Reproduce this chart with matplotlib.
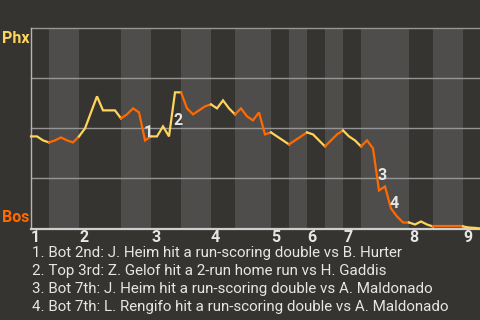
import matplotlib
matplotlib.use("Agg")
import matplotlib.pyplot as plt

# Win probability for Phoenix after each plate appearance (1.0 = Phx wins, 0.0 = Bos wins)
win_prob = [
    0.46, 0.46, 0.44, 0.43, 0.44, 0.455, 0.44, 0.43, 0.46,          # 1st
    0.50, 0.58, 0.66, 0.59, 0.59, 0.59, 0.55,                         # top 2nd
    0.57, 0.60, 0.58, 0.44, 0.46,                                     # bot 2nd
    0.46, 0.51, 0.46, 0.68, 0.68,                                     # top 3rd
    0.60, 0.57, 0.59, 0.61, 0.62,                                     # bot 3rd
    0.60, 0.64, 0.60, 0.57,                                           # top 4th
    0.60, 0.56, 0.54, 0.58, 0.47, 0.48,                               # bot 4th
    0.46, 0.44, 0.42,                                                 # top 5th
    0.44, 0.46, 0.48,                                                 # bot 5th
    0.47, 0.44, 0.41,                                                 # top 6th
    0.44, 0.47, 0.49,                                                 # bot 6th
    0.46, 0.44, 0.41,                                                 # top 7th
    0.44, 0.40, 0.19, 0.21, 0.10, 0.06, 0.03, 0.03,                   # bot 7th
    0.02, 0.035, 0.02, 0.01,                                          # top 8th
    0.01, 0.01, 0.01, 0.01, 0.01,                                     # bot 8th
    0.005, 0.003, 0.0,                                                # top 9th
]

# Plate-appearance index where each half inning starts (last entry = end of game)
half_inning_starts = [0, 3, 8, 15, 20, 25, 30, 34, 40, 43, 46, 49, 52, 55, 63, 67, 72, 75]

inning_labels = ["1", "2", "3", "4", "5", "6", "7", "8", "9"]

team_labels = ["Phx", "Bos"]

# Key plays: (plate appearance index, marker text)
key_play_index = [19, 24, 58, 60]
key_play_marks = ["1", "2", "3", "4"]
key_play_text = [
    "1. Bot 2nd: J. Heim hit a run-scoring double vs B. Hurter",
    "2. Top 3rd: Z. Gelof hit a 2-run home run vs H. Gaddis",
    "3. Bot 7th: J. Heim hit a run-scoring double vs A. Maldonado",
    "4. Bot 7th: L. Rengifo hit a run-scoring double vs A. Maldonado",
]

AWAY_COLOR = "#ffd45c"
HOME_COLOR = "#ff6a00"
DARK = "#353430"
LIGHT = "#4e4d4b"
TEXT = "#e6e6e6"

plt.rcParams["font.family"] = ["Roboto", "DejaVu Sans"]

fig = plt.figure(figsize=(4.8, 3.2), dpi=100, facecolor=DARK)
W, H = 480, 320
left_px, top_px, width_px, height_px = 31, 28.3, 450, 200.2
ax = fig.add_axes([left_px / W, 1 - (top_px + height_px) / H, width_px / W, height_px / H])
ax.set_facecolor(DARK)

n_events = half_inning_starts[-1]
ax.set_xlim(0, n_events)
ax.set_ylim(0, 1)

# alternating half-inning bands
for i in range(len(half_inning_starts) - 1):
    a, b = half_inning_starts[i], half_inning_starts[i + 1]
    ax.axvspan(a, b, color=DARK if i % 2 == 0 else LIGHT, lw=0, zorder=0)

for yv in (0.25, 0.5, 0.75, 1.0):
    ax.axhline(yv, color="#959595", lw=1.0, zorder=1, clip_on=False)

# win probability line, coloured by batting team
xs = list(range(len(win_prob)))
for i in range(len(half_inning_starts) - 1):
    a, b = half_inning_starts[i], half_inning_starts[i + 1]
    ax.plot(xs[a:b + 1], win_prob[a:b + 1], color=AWAY_COLOR if i % 2 == 0 else HOME_COLOR,
            lw=1.6, solid_joinstyle="miter", zorder=3, clip_on=False)

# key-play markers beside the segment that produced them
for idx, mark in zip(key_play_index, key_play_marks):
    mx = idx - 0.5
    my = (win_prob[idx - 1] + win_prob[idx]) / 2
    ax.annotate(mark, (mx, my), xytext=(4.5, -4.5), textcoords="offset points",
                ha="center", va="center", color=TEXT, fontsize=11.5, fontweight="bold", zorder=4)

for side in ("top", "right"):
    ax.spines[side].set_visible(False)
ax.spines["left"].set_color("#b5b5b5")
ax.spines["left"].set_linewidth(1.0)
ax.spines["bottom"].set_color("#cfcfcf")
ax.spines["bottom"].set_linewidth(1.6)

inning_starts = half_inning_starts[0:-1:2]
ax.set_xticks(inning_starts)
ax.set_xticklabels(inning_labels, ha="left", color=TEXT, fontsize=11.5, fontweight="bold")
ax.tick_params(axis="x", length=0, pad=1.0)
ax.set_yticks([])

ax.text(-0.065, 0.985, team_labels[0], transform=ax.transAxes, ha="left", va="top",
        color=AWAY_COLOR, fontsize=11.5, fontweight="bold")
ax.text(-0.065, 0.015, team_labels[1], transform=ax.transAxes, ha="left", va="bottom",
        color=HOME_COLOR, fontsize=11.5, fontweight="bold")

for j, line in enumerate(key_play_text):
    fig.text(31.5 / W, 1 - (253.5 + 17.8 * j) / H, line, ha="left", va="center",
             color=TEXT, fontsize=10.9)

fig.savefig("out.png", dpi=100, facecolor=DARK)
